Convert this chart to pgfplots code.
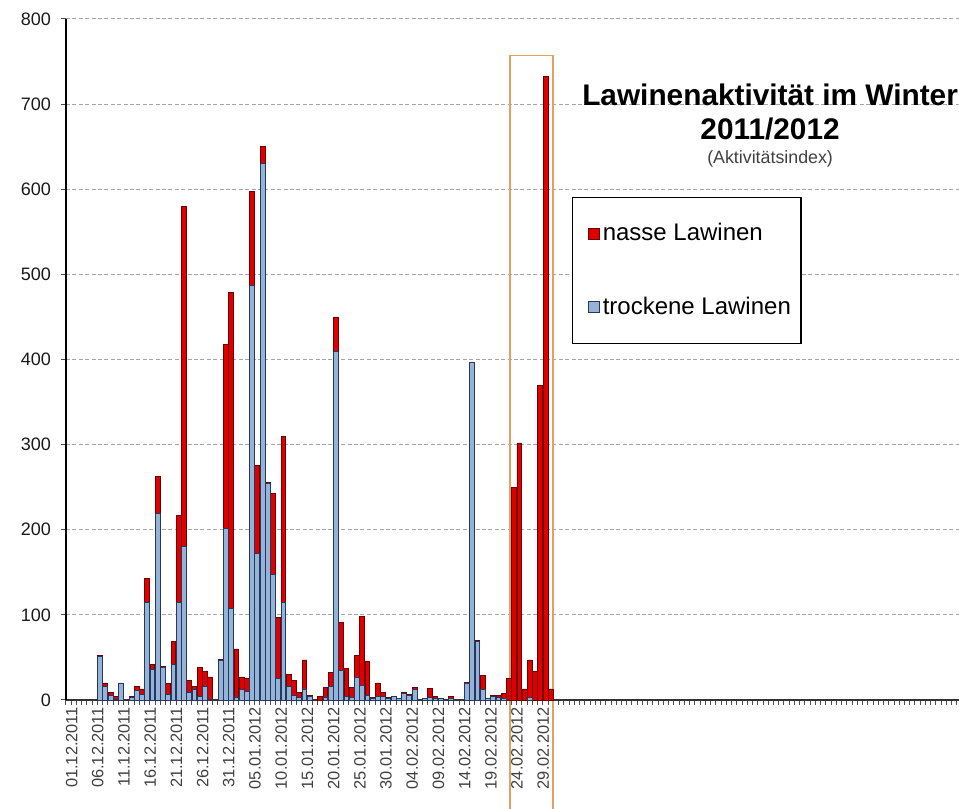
\documentclass[border=0pt]{standalone}
\usepackage{fontspec}
\setmainfont{Liberation Sans}
\usepackage{pgfplots}
\pgfplotsset{compat=1.18}
\usepackage{pgfplotstable}
\definecolor{trocken}{RGB}{149,179,215}
\definecolor{trockenE}{RGB}{35,55,95}
\definecolor{nass}{RGB}{222,0,0}
\definecolor{nassE}{RGB}{110,0,0}
\definecolor{boxor}{RGB}{228,160,95}
\definecolor{gridc}{RGB}{165,165,165}

\pgfplotstableread{
day blue red
6 51 1
7 16 4
8 5 4
9 1 3
10 20 0
11 0 0
12 3 1
13 11 5
14 6 7
15 115 28
16 36 6
17 219 44
18 38 1
19 6 13
20 42 27
21 115 102
22 180 400
23 9 14
24 12 4
25 4 34
26 16 17
27 1 26
28 0 0
29 46 2
30 201 217
31 108 371
32 3 57
33 12 15
34 10 15
35 487 110
36 172 104
37 630 20
38 254 2
39 147 96
40 25 72
41 115 195
42 16 14
43 5 18
44 3 6
45 13 34
46 4 1
47 0 0
48 0 4
49 3 12
50 16 16
51 409 40
52 35 56
53 4 33
54 3 12
55 27 25
56 17 81
57 5 40
58 2 1
59 4 16
60 4 5
61 2 1
62 4 0
63 2 0
64 8 1
65 5 2
66 12 3
67 0 0
68 2 0
69 3 11
70 2 2
71 2 0
72 0 0
73 2 2
74 0 0
75 0 0
76 20 1
77 397 0
78 69 1
79 12 17
80 2 0
81 4 1
82 3 2
83 2 6
84 0 25
85 0 250
86 0 302
87 0 13
88 3 44
89 0 34
90 0 370
91 0 733
92 0 13
}\lawdata

\begin{document}
\begin{tikzpicture}
\begin{axis}[
  width=446.5pt, height=340.5pt, scale only axis,
  xmin=-0.5, xmax=169.9, ymin=0, ymax=800,
  ybar stacked, bar width=0.92,
  axis x line*=bottom, axis y line*=left, axis line style={-},
  x axis line style={line width=1pt, black!80},
  y axis line style={line width=0.6pt, black},
  ytick={0,100,...,800},
  minor ytick={0,100,...,800},
  ymajorgrids, major grid style={gridc, line width=0.5pt, dash pattern=on 2pt off 1.2pt},
  xtick={0,5,...,90},
  xticklabels={01.12.2011,06.12.2011,11.12.2011,16.12.2011,21.12.2011,26.12.2011,31.12.2011,05.01.2012,10.01.2012,15.01.2012,20.01.2012,25.01.2012,30.01.2012,04.02.2012,09.02.2012,14.02.2012,19.02.2012,24.02.2012,29.02.2012},
  minor xtick={-0.5,0.5,...,169.5},
  tick align=outside,
  major tick length=0pt, minor tick length=2.5pt,
  minor tick style={black!70, line width=0.5pt},
  xticklabel style={rotate=90, anchor=east, font=\fontsize{8.2}{9}\selectfont, text=black!75, yshift=-1.5pt},
  yticklabel style={font=\fontsize{9}{10}\selectfont, text=black!90, xshift=-4pt},
  /pgf/number format/assume math mode=true,
  clip=false,
  legend cell align=left,
  legend style={at={(0.5666,0.7386)}, anchor=north west, draw=black, line width=0.6pt,
    fill=white, font=\fontsize{12}{14}\selectfont, inner xsep=5pt, inner ysep=13pt,
    row sep=26.5pt, nodes={inner sep=0pt}},
]
\addplot[fill=trocken, draw=trockenE, line width=0.4pt, forget plot] table[x=day,y=blue]{\lawdata};
\addplot[fill=nass, draw=nassE, line width=0.4pt, forget plot] table[x=day,y=red]{\lawdata};
\addlegendimage{legend image code/.code={\path (-2.5pt,0pt) (7pt,0pt);\draw[fill=nass,draw=nassE,line width=0.4pt](0pt,-2.75pt) rectangle (5.5pt,2.75pt);}}
\addlegendentry{nasse Lawinen}
\addlegendimage{legend image code/.code={\path (-2.5pt,0pt) (7pt,0pt);\draw[fill=trocken,draw=trockenE,line width=0.4pt](0pt,-2.75pt) rectangle (5.5pt,2.75pt);}}
\addlegendentry{trockene Lawinen}
\node[font=\fontsize{14.9}{16}\selectfont\bfseries] at (axis cs:133.85,710.7) {Lawinenaktivität im Winter};
\node[font=\fontsize{14.9}{16}\selectfont\bfseries] at (axis cs:133.85,670.8) {2011/2012};
\node[font=\fontsize{8.9}{10}\selectfont, text=black!75] at (axis cs:133.85,635.5) {(Aktivitätsindex)};
\draw[boxor, line width=0.6pt] (axis cs:84.23,756.8) rectangle (axis cs:92.44,-140);
\end{axis}
\pgfresetboundingbox
\path ([xshift=-33pt,yshift=-54.5pt]current axis.south west) rectangle ([yshift=9.5pt]current axis.north east);
\end{tikzpicture}
\end{document}
